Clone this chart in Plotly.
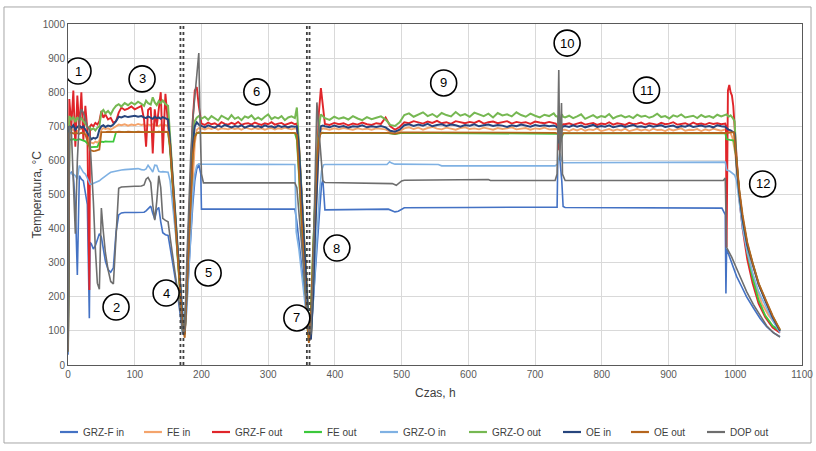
import plotly.graph_objects as go

# ---------------- time bases (hours) ----------------
early_t = [0, 2, 5, 8, 11, 14, 17, 20, 23, 26, 29, 32, 33, 35, 38, 41, 44, 47, 50, 53,
           56, 60, 64, 68, 72, 76, 80, 85, 90, 95, 100, 105, 110, 114, 117, 120, 124, 127, 130, 133,
           136, 139, 142, 146, 150]
cd1_t = [153, 157, 161, 165, 169, 172, 175, 178, 181, 184, 187, 190, 193, 196, 199]
ts1 = [200, 205, 210, 215, 220, 225, 230, 235, 240, 245, 250, 255, 260, 265, 270, 275, 280, 285, 290,
       295, 300, 305, 310, 315, 320, 325, 330, 335, 340]
cd2_t = [343, 346, 349, 352, 355, 358, 361, 364, 367, 370, 373, 376, 379, 382]
ts2 = [385, 392, 399, 406, 413, 420, 427, 434, 441, 448, 455, 462, 469, 476, 483, 490, 497, 504, 511, 518,
       525, 532, 539, 546, 553, 560, 567, 574, 581, 588, 595, 602, 609, 616, 623, 630, 637, 644, 651, 658,
       665, 672, 679, 686, 693, 700, 707, 714, 721, 728]
sp_t = [731, 734, 736, 738, 740, 742]
ts3 = [745, 751, 757, 763, 769, 775, 781, 787, 793, 799, 805, 811, 817, 823, 829, 835, 841, 847, 853, 859,
       865, 871, 877, 883, 889, 895, 901, 907, 913, 919, 925, 931, 937, 943, 949, 955, 961, 967, 973, 979, 985]

# ---------------- GRZ-F in ----------------
grzf_in_early = [30, 560, 565, 555, 470, 264, 555, 545, 540, 500, 470, 137, 360, 355, 340, 350, 370, 385, 375, 340,
                 305, 280, 272, 285, 390, 440, 446, 447, 446, 447, 447, 448, 447, 448, 452, 458, 466, 445, 428, 455,
                 462, 420, 388, 382, 380]
grzf_in_rest_t = [153, 157, 161, 165, 169, 172, 175, 178, 181, 184, 187, 190, 193, 196, 199, 200,
                  340, 343, 346, 350, 354, 358, 362, 365, 368, 371, 374, 377, 380, 382, 385,
                  480, 486, 490, 495, 500, 504, 600, 733, 734, 737, 740, 742, 745,
                  980, 984, 985, 986, 987, 989, 995, 1002, 1010, 1017, 1027, 1037, 1047, 1057, 1067]
grzf_in_rest_v = [345, 300, 250, 195, 140, 90, 110, 180, 280, 380, 470, 540, 575, 588, 560, 457,
                  457, 420, 360, 290, 220, 150, 85, 120, 200, 290, 380, 460, 530, 542, 455,
                  457, 452, 449, 451, 458, 461, 462, 463, 600, 605, 540, 465, 462,
                  460, 445, 440, 210, 340, 330, 300, 260, 228, 200, 168, 137, 112, 95, 83]

# ---------------- FE in ----------------
fe_in_early = [40, 690, 695, 688, 692, 685, 690, 693, 688, 680, 670, 660, 655, 652, 650, 655, 652, 658, 690, 695,
               692, 694, 690, 695, 700, 705, 703, 706, 702, 705, 703, 707, 704, 706, 700, 705, 703, 706, 702, 704,
               700, 705, 702, 704, 700]
fe_in_cd1 = [640, 530, 420, 320, 220, 120, 95, 210, 340, 460, 570, 650, 690, 695, 692]
fe_in_s1 = [694, 691, 695, 692, 696, 690, 694, 693, 691, 695, 692, 694, 690, 696, 693, 691, 695, 692, 694, 690,
            693, 695, 691, 694, 692, 696, 693, 691, 694]
fe_in_cd2 = [693, 640, 540, 430, 320, 210, 110, 75, 200, 380, 540, 650, 690, 694]
fe_in_s2 = [693, 690, 694, 691, 695, 692, 690, 694, 691, 693, 690, 694, 692, 691, 683, 680, 686, 694, 697, 692,
            696, 690, 695, 698, 693, 691, 696, 694, 690, 695, 697, 692, 694, 691, 696, 693, 690, 695, 692, 694,
            697, 691, 693, 695, 690, 694, 692, 696, 691, 693]
fe_in_sp = [692, 690, 660, 670, 688, 690]
fe_in_s3 = [690, 686, 692, 688, 693, 687, 691, 689, 694, 686, 690, 692, 687, 691, 688, 693, 686, 690, 692, 688,
            691, 687, 693, 689, 690, 686, 692, 688, 691, 694, 687, 690, 689, 692, 686, 691, 688, 693, 690, 687, 691]
fe_in_end_t = [986, 988, 990, 993, 996, 1000, 1004, 1009, 1015, 1022, 1030, 1040, 1050, 1060, 1067]
fe_in_end_v = [689, 688, 686, 680, 665, 620, 540, 450, 370, 300, 235, 180, 145, 120, 105]

# ---------------- GRZ-F out ----------------
grzf_out_early = [50, 780, 700, 805, 640, 790, 690, 800, 660, 760, 690, 220, 700, 705, 700, 710, 705, 715, 745, 725,
                  735, 720, 725, 710, 715, 740, 755, 748, 752, 758, 750, 755, 760, 720, 640, 748, 755, 620, 750, 700,
                  760, 800, 620, 795, 705]
grzf_out_cd1 = [650, 540, 430, 320, 210, 105, 95, 250, 420, 580, 720, 805, 815, 760, 712]
grzf_out_s1 = [708, 704, 711, 706, 709, 703, 712, 707, 705, 710, 706, 713, 704, 708, 709, 705, 711, 707, 704, 709,
               706, 712, 705, 708, 710, 704, 707, 711, 706]
grzf_out_cd2 = [708, 650, 540, 430, 320, 210, 110, 80, 230, 420, 600, 740, 812, 760]
grzf_out_s2 = [707, 704, 710, 706, 709, 703, 708, 705, 711, 706, 704, 709, 707, 726, 700, 690, 698, 712, 709, 715,
               711, 708, 714, 710, 716, 709, 712, 707, 715, 711, 709, 713, 710, 716, 708, 712, 714, 709, 711, 715,
               708, 713, 710, 712, 707, 714, 711, 709, 713, 710]
grzf_out_sp = [708, 700, 630, 660, 700, 706]
grzf_out_s3 = [706, 709, 704, 708, 711, 705, 707, 710, 704, 708, 706, 712, 705, 709, 707, 704, 710, 706, 708, 711,
               705, 709, 707, 704, 710, 706, 708, 712, 705, 707, 709, 704, 711, 706, 708, 705, 710, 707, 709, 706, 708]
grzf_out_end_t = [986, 987, 989, 991, 993, 995, 997, 999, 1002, 1006, 1011, 1018, 1026, 1035, 1045, 1056, 1067]
grzf_out_end_v = [700, 345, 805, 821, 800, 790, 760, 705, 600, 490, 400, 310, 240, 180, 140, 110, 95]

# ---------------- FE out ----------------
fe_out_early = [40, 662, 660, 663, 659, 661, 662, 660, 658, 656, 650, 642, 640, 639, 640, 641, 640, 652, 655, 654,
                656, 655, 654, 655, 683, 683, 683, 682, 683, 683, 684, 683, 683, 682, 683, 684, 683, 683, 682, 683,
                684, 683, 683, 682, 683]
fe_out_rest_t = [153, 157, 161, 165, 169, 172, 175, 178, 181, 184, 187, 190, 193, 196, 199,
                 340, 343, 346, 349, 352, 355, 358, 361, 364, 367, 370, 373, 376, 379, 382, 385,
                 480, 490, 500, 730, 734, 737, 740, 742, 985, 987, 992, 998, 1002, 1006, 1011, 1018, 1026, 1035,
                 1045, 1056, 1067]
fe_out_rest_v = [630, 520, 410, 305, 200, 100, 90, 230, 380, 520, 630, 672, 680, 681, 680,
                 680, 660, 560, 450, 340, 230, 125, 70, 160, 330, 490, 610, 670, 680, 681, 680,
                 680, 677, 681, 680, 678, 650, 665, 679, 680, 662, 660, 658, 600, 500, 420, 330, 255, 190,
                 145, 115, 100]

# ---------------- GRZ-O in ----------------
grzo_in_early = [50, 565, 562, 560, 555, 545, 585, 575, 565, 560, 545, 535, 530, 530, 532, 535, 537, 540, 545, 550,
                 555, 560, 565, 567, 568, 570, 572, 573, 574, 575, 575, 576, 573, 572, 575, 586, 575, 566, 586, 585,
                 568, 566, 567, 567, 565]
grzo_in_rest_t = [153, 157, 161, 165, 169, 172, 175, 178, 181, 184, 187, 190, 193, 196, 199,
                  340, 342, 346, 350, 354, 358, 362, 365, 368, 371, 374, 377, 380, 383, 385,
                  478, 482, 485, 490, 500, 555, 560, 730, 734, 737, 740, 742,
                  985, 987, 992, 999, 1002, 1006, 1011, 1018, 1026, 1035, 1047, 1056, 1067]
grzo_in_rest_v = [540, 470, 390, 310, 230, 150, 100, 160, 280, 400, 500, 560, 585, 590, 589,
                  588, 390, 340, 270, 200, 130, 80, 110, 200, 310, 420, 510, 570, 587, 588,
                  588, 596, 592, 589, 589, 588, 584, 584, 590, 621, 600, 593,
                  595, 572, 568, 557, 540, 470, 400, 330, 270, 215, 165, 130, 95]

# ---------------- GRZ-O out ----------------
grzo_out_early = [40, 730, 720, 728, 712, 726, 718, 724, 715, 706, 700, 692, 695, 690, 694, 688, 696, 700, 742, 748,
                  738, 745, 735, 750, 760, 765, 758, 768, 762, 770, 764, 772, 766, 760, 775, 768, 764, 785, 770, 762,
                  774, 768, 776, 765, 760]
grzo_out_cd1 = [660, 550, 440, 330, 220, 115, 95, 240, 400, 550, 670, 715, 725, 730, 724]
grzo_out_s1 = [722, 728, 719, 730, 724, 717, 731, 726, 720, 733, 722, 727, 718, 729, 725, 732, 720, 726, 719, 728,
               735, 721, 727, 723, 730, 718, 726, 729, 724]
grzo_out_cd2 = [755, 660, 550, 440, 330, 220, 115, 80, 210, 400, 580, 700, 735, 728]
grzo_out_s2 = [724, 719, 728, 722, 726, 720, 730, 723, 718, 727, 721, 725, 729, 720, 704, 701, 712, 733, 738, 728,
               735, 741, 730, 736, 727, 739, 733, 729, 742, 731, 736, 728, 740, 734, 730, 737, 726, 739, 732, 735,
               729, 741, 733, 728, 737, 731, 726, 734, 730, 738]
grzo_out_sp = [730, 728, 700, 715, 735, 728]
grzo_out_s3 = [726, 731, 724, 729, 735, 722, 728, 733, 725, 730, 727, 736, 723, 729, 732, 726, 730, 724, 734, 728,
               731, 725, 729, 737, 727, 730, 723, 732, 728, 735, 726, 729, 731, 724, 733, 727, 730, 725, 734, 729, 732]
grzo_out_end_t = [987, 990, 993, 996, 999, 1002, 1006, 1011, 1018, 1026, 1035, 1047, 1056, 1067]
grzo_out_end_v = [735, 728, 732, 725, 715, 590, 505, 430, 355, 298, 238, 182, 142, 102]

# ---------------- OE in ----------------
oe_in_early = [40, 700, 695, 703, 690, 698, 702, 696, 700, 690, 680, 668, 665, 662, 666, 664, 668, 690, 700, 703,
               698, 702, 700, 705, 715, 728, 726, 730, 727, 729, 731, 728, 730, 726, 724, 729, 725, 722, 728, 724,
               726, 722, 727, 723, 720]
oe_in_cd1 = [650, 545, 435, 325, 215, 110, 90, 220, 380, 530, 650, 700, 712, 705, 700]
oe_in_s1 = [701, 697, 703, 699, 696, 702, 698, 704, 700, 697, 701, 699, 703, 696, 700, 702, 698, 701, 697, 703,
            699, 700, 696, 702, 698, 701, 697, 700, 699]
oe_in_cd2 = [700, 640, 530, 420, 310, 200, 100, 75, 190, 370, 540, 660, 700, 702]
oe_in_s2 = [700, 697, 702, 698, 701, 696, 700, 699, 703, 697, 700, 698, 701, 697, 687, 684, 690, 703, 706, 701,
            705, 702, 707, 700, 704, 706, 701, 705, 703, 699, 704, 702, 706, 700, 703, 705, 701, 704, 702, 698,
            703, 700, 705, 702, 699, 704, 701, 703, 700, 702]
oe_in_sp = [700, 695, 650, 672, 695, 700]
oe_in_s3 = [701, 698, 703, 699, 702, 697, 700, 704, 698, 701, 699, 703, 697, 700, 702, 698, 701, 704, 699, 700,
            697, 702, 699, 701, 703, 698, 700, 702, 697, 701, 699, 703, 698, 700, 702, 699, 701, 697, 703, 700, 699]
oe_in_end_t = [987, 990, 993, 996, 999, 1002, 1006, 1011, 1018, 1026, 1035, 1047, 1056, 1067]
oe_in_end_v = [695, 690, 688, 685, 680, 585, 505, 428, 352, 296, 236, 180, 140, 100]

# ---------------- OE out ----------------
oe_out_early = [40, 680, 682, 679, 681, 680, 678, 681, 680, 676, 660, 640, 630, 628, 627, 628, 630, 632, 683, 684,
                683, 684, 683, 683, 683, 684, 683, 683, 684, 683, 683, 684, 683, 683, 684, 683, 683, 684, 683, 683,
                684, 683, 683, 684, 683]
oe_out_rest_t = [153, 157, 161, 165, 169, 172, 175, 178, 181, 184, 187, 190, 193, 196, 199,
                 340, 343, 346, 349, 352, 355, 358, 361, 364, 367, 370, 373, 376, 379, 382, 385,
                 480, 490, 500, 730, 734, 737, 740, 742, 985, 988, 993, 998, 1002, 1006, 1011, 1018, 1026, 1035,
                 1047, 1056, 1067]
oe_out_rest_v = [640, 530, 420, 315, 210, 105, 80, 210, 360, 500, 615, 668, 680, 682, 681,
                 681, 675, 570, 460, 350, 240, 135, 65, 150, 320, 480, 600, 665, 680, 681, 681,
                 681, 678, 682, 681, 679, 660, 670, 680, 681, 680, 682, 682, 600, 515, 440, 360, 300, 240,
                 185, 145, 103]

# ---------------- DOP out ----------------
dop_out_early = [40, 700, 690, 560, 385, 600, 720, 750, 740, 720, 700, 690, 660, 600, 480, 340, 240, 222, 460, 390,
                 330, 280, 245, 238, 400, 518, 522, 523, 522, 523, 524, 524, 525, 528, 545, 550, 535, 470, 425, 480,
                 555, 520, 430, 424, 420]
dop_out_rest_t = [153, 157, 161, 165, 169, 172, 175, 178, 181, 184, 187, 190, 193, 196, 198, 200, 203,
                  340, 343, 346, 349, 352, 355, 358, 361, 364, 367, 370, 373, 376, 379, 382, 385,
                  480, 486, 492, 500, 504, 630, 633, 730, 733, 735.5, 737, 739.6, 741, 745,
                  982, 985, 987, 990, 995, 1002, 1010, 1017, 1027, 1037, 1047, 1057, 1067]
dop_out_rest_v = [375, 320, 265, 205, 150, 95, 100, 300, 480, 620, 720, 790, 860, 915, 700, 560, 534,
                  534, 520, 450, 370, 300, 230, 160, 95, 90, 260, 520, 770, 690, 600, 540, 535,
                  534, 532, 527, 540, 542, 544, 541, 541, 560, 865, 600, 768, 560, 541,
                  541, 548, 345, 335, 315, 283, 245, 215, 178, 145, 115, 95, 82]

# ---------------- annotations ----------------
marker_labels = ["1", "2", "3", "4", "5", "6", "7", "8", "9", "10", "11", "12"]
marker_x = [15, 72, 111, 147, 210, 283, 343, 403, 563, 748, 867, 1041]
marker_y = [862, 170, 839, 211, 270, 801, 138, 343, 827, 944, 806, 531]
break_x = [168.5, 173, 358, 362]

x_ticks = [0, 100, 200, 300, 400, 500, 600, 700, 800, 900, 1000, 1100]
y_ticks = [0, 100, 200, 300, 400, 500, 600, 700, 800, 900, 1000]

# legend entry left positions (fraction of plot width)
legend_pos = [-0.0109, 0.1035, 0.1962, 0.3215, 0.4251, 0.5463, 0.6744, 0.7670, 0.8706]


def noisy(early, cd1, s1, cd2, s2, sp, s3, end_t, end_v):
    t = early_t + cd1_t + ts1 + cd2_t + ts2 + sp_t + ts3 + end_t
    v = early + cd1 + s1 + cd2 + s2 + sp + s3 + end_v
    assert len(t) == len(v), (len(t), len(v))
    return t, v


def plain(early, rest_t, rest_v):
    assert len(early) == len(early_t) and len(rest_t) == len(rest_v), (len(early), len(rest_t), len(rest_v))
    return early_t + rest_t, early + rest_v


series = [
    ("GRZ-F in", "#4472C4", 1.6, plain(grzf_in_early, grzf_in_rest_t, grzf_in_rest_v)),
    ("FE in", "#F4A46C", 1.9, noisy(fe_in_early, fe_in_cd1, fe_in_s1, fe_in_cd2, fe_in_s2, fe_in_sp, fe_in_s3,
                                    fe_in_end_t, fe_in_end_v)),
    ("GRZ-F out", "#E0252A", 1.9, noisy(grzf_out_early, grzf_out_cd1, grzf_out_s1, grzf_out_cd2, grzf_out_s2,
                                        grzf_out_sp, grzf_out_s3, grzf_out_end_t, grzf_out_end_v)),
    ("FE out", "#3CC83C", 1.8, plain(fe_out_early, fe_out_rest_t, fe_out_rest_v)),
    ("GRZ-O in", "#7FB1E3", 1.6, plain(grzo_in_early, grzo_in_rest_t, grzo_in_rest_v)),
    ("GRZ-O out", "#76B852", 2.0, noisy(grzo_out_early, grzo_out_cd1, grzo_out_s1, grzo_out_cd2, grzo_out_s2,
                                        grzo_out_sp, grzo_out_s3, grzo_out_end_t, grzo_out_end_v)),
    ("OE in", "#27457D", 2.0, noisy(oe_in_early, oe_in_cd1, oe_in_s1, oe_in_cd2, oe_in_s2, oe_in_sp, oe_in_s3,
                                    oe_in_end_t, oe_in_end_v)),
    ("OE out", "#B5651D", 1.8, plain(oe_out_early, oe_out_rest_t, oe_out_rest_v)),
    ("DOP out", "#6E6E6E", 1.6, plain(dop_out_early, dop_out_rest_t, dop_out_rest_v)),
]

FONT = "Liberation Sans Narrow, Arial Narrow, Liberation Sans, Arial, sans-serif"

fig = go.Figure()
for name, color, width, (t, v) in series:
    fig.add_trace(go.Scatter(x=t, y=v, mode="lines", name=name, showlegend=False,
                             line=dict(color=color, width=width)))

shapes = []
annotations = []
for bx in break_x:
    shapes.append(dict(type="line", xref="x", yref="paper", x0=bx, x1=bx, y0=0, y1=1,
                       line=dict(color="#404040", width=1.8, dash="dot"), layer="above"))
for mx, my in zip(marker_x, marker_y):
    shapes.append(dict(type="circle", xref="x", yref="y", xsizemode="pixel", ysizemode="pixel",
                       xanchor=mx, yanchor=my, x0=-13, x1=13, y0=-13, y1=13,
                       line=dict(color="#000000", width=1.6), fillcolor="white", layer="above"))
# outer chart frame
shapes.append(dict(type="rect", xref="paper", yref="paper", x0=-0.0872, x1=1.0123, y0=-0.2287, y1=1.0499,
                   line=dict(color="#A6A6A6", width=1), layer="below"))

# legend (line sample + label), drawn in the chart's own legend row
LEG_Y = -0.1965
for (name, color, width, _), lx in zip(series, legend_pos):
    shapes.append(dict(type="line", xref="paper", yref="paper", x0=lx, x1=lx + 0.0245, y0=LEG_Y, y1=LEG_Y,
                       line=dict(color=color, width=2.2)))
    annotations.append(dict(x=lx + 0.029, y=LEG_Y, xref="paper", yref="paper", text=name, showarrow=False,
                            xanchor="left", yanchor="middle",
                            font=dict(family=FONT, size=10, color="#404040")))

for lab, mx, my in zip(marker_labels, marker_x, marker_y):
    annotations.append(dict(x=mx, y=my, xref="x", yref="y", text=lab, showarrow=False,
                            font=dict(family=FONT, size=13, color="#000000")))
annotations.append(dict(x=-0.0545, y=0.5, xref="paper", yref="paper", text="Temperatura, °C",
                        textangle=-90, showarrow=False, font=dict(family=FONT, size=12, color="#404040")))
annotations.append(dict(x=0.5, y=-0.108, xref="paper", yref="paper", text="Czas, h",
                        showarrow=False, font=dict(family=FONT, size=12, color="#404040")))

fig.update_layout(
    width=816, height=451,
    margin=dict(l=68, r=14, t=24, b=86, autoexpand=False),
    paper_bgcolor="white", plot_bgcolor="white",
    font=dict(family=FONT, size=10, color="#595959"),
    shapes=shapes, annotations=annotations,
    showlegend=False, hovermode=False,
)
fig.update_xaxes(range=[0, 1100], tickvals=x_ticks, ticktext=[str(v) for v in x_ticks],
                 showgrid=True, gridcolor="#D9D9D9", gridwidth=1, zeroline=False, automargin=False,
                 showline=True, linecolor="#595959", linewidth=1, mirror=True, ticks="",
                 tickfont=dict(family=FONT, size=10, color="#595959"))
fig.update_yaxes(range=[0, 1000], tickvals=y_ticks, ticktext=[str(v) for v in y_ticks],
                 showgrid=True, gridcolor="#D9D9D9", gridwidth=1, zeroline=False, automargin=False,
                 showline=True, linecolor="#595959", linewidth=1, mirror=True, ticks="",
                 tickfont=dict(family=FONT, size=10, color="#595959"))

fig.write_html("out.html", config={"displayModeBar": False},
               post_script="document.body.style.margin='0';document.body.style.padding='0';")
